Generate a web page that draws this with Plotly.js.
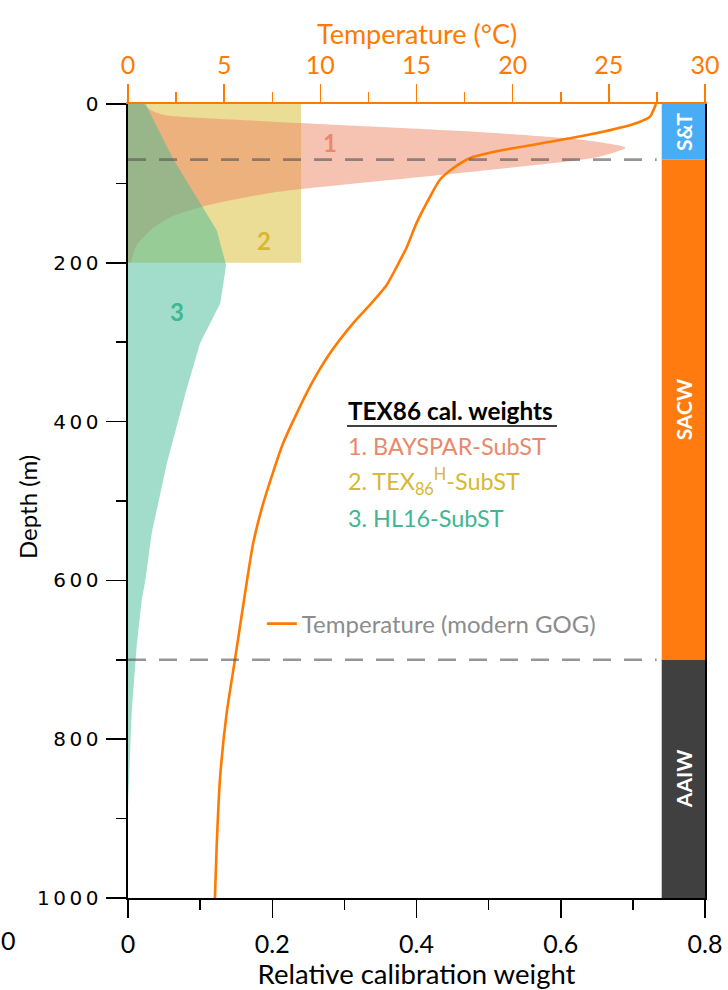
<!DOCTYPE html>
<html>
<head>
<meta charset="utf-8">
<script src="https://cdn.plot.ly/plotly-3.0.1.min.js"></script>
<style>
  html, body { margin: 0; padding: 0; background: #fff; }
  #chart { width: 728px; height: 990px; }
  .ytick text { letter-spacing: 3.5px; }
</style>
</head>
<body>
<div id="chart"></div>
<script>
// ---- Data ----
// 1. BAYSPAR-SubST relative calibration weight vs depth
const baysparDepth  = [0, 2, 7, 14, 22, 35, 45, 55, 67, 87, 112, 129, 142, 156, 178, 200];
const baysparWeight = [0.02, 0.024, 0.03, 0.05, 0.195, 0.48, 0.63, 0.69, 0.65, 0.46, 0.197, 0.104, 0.06, 0.035, 0.012, 0.004];

// 2. TEX86H-SubST (uniform weight 0-200 m)
const texhDepth  = [0, 200];
const texhWeight = [0.24, 0.24];

// 3. HL16-SubST
const hl16Depth  = [0, 3, 70, 136, 159, 203, 251, 301, 360, 452, 540, 600, 625, 683, 767, 851, 882];
const hl16Weight = [0.025, 0.026, 0.063, 0.107, 0.123, 0.136, 0.128, 0.100, 0.081, 0.054, 0.033, 0.024, 0.019, 0.012, 0.005, 0.0014, 0];

// Modern temperature profile (GOG)
const tempDepth = [0, 3, 16, 24, 35, 47, 58, 68, 81, 96, 117, 150, 180, 205, 228, 253, 276, 314, 356, 427, 503, 553, 625, 700, 767, 851, 935, 1000];
const tempC     = [27.45, 27.4, 27.14, 26.45, 24.7, 22.1, 19.5, 17.8, 16.9, 16.2, 15.7, 15.0, 14.5, 13.97, 13.45, 12.58, 11.71, 10.5, 9.46, 8.07, 7.03, 6.51, 6.03, 5.56, 5.13, 4.78, 4.61, 4.52];

// Water masses
const waterMassNames  = ['S&T', 'SACW', 'AAIW'];
const waterMassTop    = [0, 70, 700];
const waterMassBottom = [70, 700, 1000];
const waterMassColors = ['#48ADF5', '#FF7B10', '#404040'];

// Axis ticks
const depthTicks  = [0, 200, 400, 600, 800, 1000];
const weightTicks = [0, 0.2, 0.4, 0.6, 0.8];
const tempTicks   = [0, 5, 10, 15, 20, 25, 30];

// ---- Styling ----
const ORANGE = '#FF7A00';
const C_RED = 'rgb(234,136,106)', C_YEL = 'rgb(214,184,52)', C_TEAL = 'rgb(62,183,146)';

const traces = [
  { x: texhWeight, y: texhDepth, type: 'scatter', mode: 'lines', fill: 'tozerox',
    fillcolor: 'rgba(215,185,45,0.5)', line: {width: 0}, hoverinfo: 'skip', showlegend: false },
  { x: baysparWeight, y: baysparDepth, type: 'scatter', mode: 'lines', fill: 'tozerox',
    fillcolor: 'rgba(237,133,100,0.5)', line: {width: 0, shape: 'spline', smoothing: 0.6}, hoverinfo: 'skip', showlegend: false },
  { x: hl16Weight, y: hl16Depth, type: 'scatter', mode: 'lines', fill: 'tozerox',
    fillcolor: 'rgba(69,187,151,0.5)', line: {width: 0}, hoverinfo: 'skip', showlegend: false },
  { x: waterMassNames.map(() => 0.77), y: waterMassBottom.map((b, i) => b - waterMassTop[i]),
    base: waterMassTop, type: 'bar', width: 0.06, marker: {color: waterMassColors, line: {width: 0}},
    text: waterMassNames, textposition: 'inside', insidetextanchor: 'middle', textangle: -90,
    constraintext: 'none', textfont: {family: 'Lato', size: 21, color: 'white', weight: 'bold'},
    hoverinfo: 'skip', showlegend: false },
  { x: tempC, y: tempDepth, xaxis: 'x2', type: 'scatter', mode: 'lines', name: 'Temperature (modern GOG)',
    line: {color: ORANGE, width: 2.6, shape: 'spline', smoothing: 0.6}, showlegend: true }
];

function dx(px) { return (px - 128) / 721.25; }
function dy(py) { return (py - 104) / 0.794; }

const shapes = [];
[70, 700].forEach(d => shapes.push({
  type: 'line', xref: 'x', yref: 'y', x0: 0, x1: 0.733, y0: d, y1: d,
  line: {color: 'rgba(85,85,85,0.62)', width: 2.6, dash: '18px,13px'}, layer: 'above'
}));
shapes.push({ type: 'line', xref: 'x', yref: 'y', x0: dx(347), x1: dx(557), y0: dy(426), y1: dy(426),
  line: {color: 'black', width: 1.6} });

const annotations = [
  {x: 0.28, y: 49, text: '<b>1</b>', font: {family: 'Lato', size: 24, color: C_RED}},
  {x: 0.189, y: 172, text: '<b>2</b>', font: {family: 'Lato', size: 24, color: C_YEL}},
  {x: 0.068, y: 261, text: '<b>3</b>', font: {family: 'Lato', size: 24, color: C_TEAL}},
  {x: dx(346), y: dy(410), xanchor: 'left', text: '<b>TEX86 cal. weights</b>', font: {family: 'Lato', size: 24.3, color: 'black'}},
  {x: dx(346), y: dy(446), xanchor: 'left', text: '1. BAYSPAR-SubST', font: {family: 'Lato', size: 23.4, color: C_RED}},
  {x: dx(346), y: dy(481), xanchor: 'left', text: '2. TEX<sub>86</sub><sup>H</sup>-SubST', font: {family: 'Lato', size: 23.4, color: C_YEL}},
  {x: dx(346), y: dy(518), xanchor: 'left', text: '3. HL16-SubST', font: {family: 'Lato', size: 23.4, color: C_TEAL}},
].map(a => Object.assign({xref: 'x', yref: 'y', showarrow: false, yanchor: 'middle'}, a));
annotations.push({xref: 'paper', yref: 'paper', x: (8 - 128) / 577, y: (898 - 940) / 794, xanchor: 'center', yanchor: 'middle',
  showarrow: false, text: '0', font: {family: 'Lato', size: 25, color: 'black'}});
// top axis title
annotations.push({xref: 'paper', yref: 'paper', x: (417 - 128) / 577, y: (898 - 34) / 794, xanchor: 'center', yanchor: 'middle',
  showarrow: false, text: 'Temperature (°C)', font: {family: 'Lato', size: 27, color: ORANGE}});
// left axis title
annotations.push({xref: 'paper', yref: 'paper', x: (27 - 128) / 577, y: (898 - 507) / 794, xanchor: 'center', yanchor: 'middle',
  textangle: -90, showarrow: false, text: 'Depth (m)', font: {family: 'Lato', size: 24, color: 'black'}});

const layout = {
  width: 728, height: 990,
  margin: {l: 128, r: 23, t: 104, b: 92},
  paper_bgcolor: 'white', plot_bgcolor: 'white',
  barmode: 'overlay',
  showlegend: true,
  legend: {x: 0.232, y: (898 - 624) / 794, xanchor: 'left', yanchor: 'middle', bgcolor: 'rgba(0,0,0,0)',
    itemwidth: 30, font: {family: 'Lato', size: 24, color: '#8C8C8C'}},
  xaxis: {
    range: [0, 0.8], tickvals: weightTicks, ticks: 'outside', ticklen: 18, tickwidth: 1.5, tickcolor: 'black',
    minor: {dtick: 0.1, tick0: 0, ticks: 'outside', ticklen: 10, tickwidth: 1.5, tickcolor: 'black'},
    showline: true, linecolor: 'black', linewidth: 2, showgrid: false, zeroline: false,
    tickfont: {family: 'Lato', size: 25, color: 'black'}, ticklabelstandoff: 5,
    title: {text: 'Relative calibration weight', font: {family: 'Lato', size: 27.5, color: 'black'}, standoff: 0}
  },
  xaxis2: {
    overlaying: 'x', side: 'top', range: [0, 30], tickvals: tempTicks, ticks: 'outside', ticklen: 18, tickwidth: 1.5,
    tickcolor: ORANGE, minor: {dtick: 2.5, tick0: 0, ticks: 'outside', ticklen: 10, tickwidth: 1.5, tickcolor: ORANGE},
    showline: true, linecolor: ORANGE, linewidth: 2, showgrid: false, zeroline: false,
    tickfont: {family: 'Lato', size: 25, color: ORANGE}
  },
  yaxis: {
    range: [1000, 0], tickvals: depthTicks, ticks: 'outside', ticklen: 20, tickwidth: 1.5, tickcolor: 'black',
    minor: {dtick: 100, tick0: 0, ticks: 'outside', ticklen: 10, tickwidth: 1.5, tickcolor: 'black'},
    showline: true, mirror: true, linecolor: 'black', linewidth: 2, showgrid: false, zeroline: false,
    tickfont: {family: 'DejaVu Sans', size: 20, color: 'black'}, ticklabelstandoff: 0
  },
  shapes: shapes,
  annotations: annotations
};

Plotly.newPlot('chart', traces, layout, {displayModeBar: false, staticPlot: true});
</script>
</body>
</html>
